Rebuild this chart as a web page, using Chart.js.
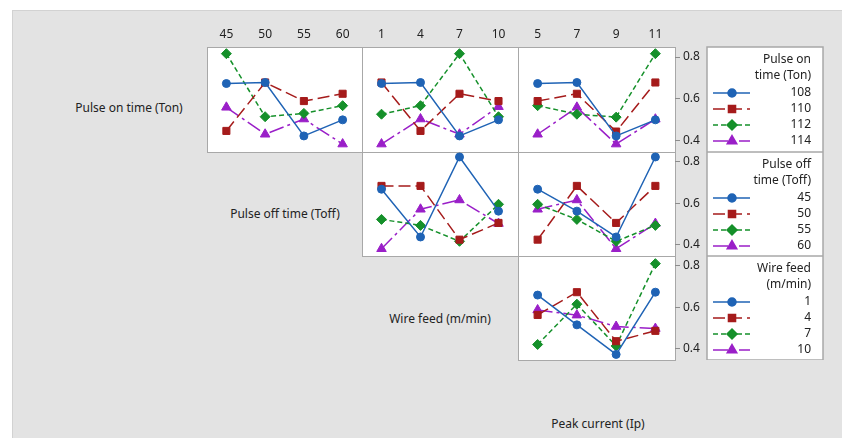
<!DOCTYPE html>
<html lang="en">
<head>
<meta charset="UTF-8" />
<title>Interaction Plot</title>
<script src="https://cdn.jsdelivr.net/npm/chart.js@4.4.1/dist/chart.umd.min.js"></script>
<style>
  body { margin:0; background:#fff; font-family:"Noto Sans", sans-serif; }
  #wrap { position:relative; width:842px; height:438px; overflow:hidden; }
  #bg { position:absolute; left:12px; top:10px; right:0; bottom:0; background:#e3e3e3; border-left:1px solid #d2d2d2; border-top:1px solid #d2d2d2; }
  .panel { position:absolute; background:#fff; border:1.5px solid #a8a8a8; box-sizing:border-box; }
  canvas { position:absolute; }
  .lbl { position:absolute; font-size:12px; color:#222; transform:translate(-50%,-50%); white-space:nowrap; }
</style>
</head>
<body>
<div id="wrap">
  <div id="bg"></div>
  <div class="lbl" style="left:129px;top:107px">Pulse on time (Ton)</div>
  <div class="lbl" style="left:285px;top:213px">Pulse off time (Toff)</div>
  <div class="lbl" style="left:440px;top:318px">Wire feed (m/min)</div>
  <div class="lbl" style="left:598px;top:423px">Peak current (Ip)</div>
</div>
<script>
// factor levels
const tonLevels  = ['108', '110', '112', '114'];
const toffLevels = ['45', '50', '55', '60'];
const wireLevels = ['1', '4', '7', '10'];
const ipLevels   = ['5', '7', '9', '11'];

// mean response, one row per series level
const tonByToff = [
  [0.673, 0.678, 0.422, 0.499],
  [0.446, 0.678, 0.589, 0.624],
  [0.816, 0.514, 0.530, 0.567],
  [0.559, 0.430, 0.503, 0.383]
];
const tonByWire = [
  [0.673, 0.678, 0.422, 0.499],
  [0.678, 0.446, 0.624, 0.589],
  [0.526, 0.567, 0.816, 0.514],
  [0.383, 0.503, 0.430, 0.562]
];
const tonByIp = [
  [0.673, 0.678, 0.422, 0.499],
  [0.589, 0.624, 0.443, 0.678],
  [0.567, 0.526, 0.512, 0.816],
  [0.430, 0.559, 0.383, 0.502]
];
const toffByWire = [
  [0.668, 0.437, 0.824, 0.562],
  [0.684, 0.684, 0.424, 0.505],
  [0.522, 0.493, 0.416, 0.595],
  [0.380, 0.571, 0.616, 0.502]
];
const toffByIp = [
  [0.668, 0.562, 0.437, 0.824],
  [0.424, 0.684, 0.505, 0.684],
  [0.595, 0.522, 0.416, 0.493],
  [0.571, 0.616, 0.380, 0.502]
];
const wireByIp = [
  [0.659, 0.515, 0.372, 0.673],
  [0.563, 0.673, 0.436, 0.486],
  [0.420, 0.615, 0.413, 0.811],
  [0.587, 0.562, 0.507, 0.497]
];
const yTicks = [0.4, 0.6, 0.8];

// styling
const colors = ['#1f63b5', '#a51b1b', '#15902a', '#9a1fc8'];
const shapes = ['circle', 'rect', 'rectRot', 'triangle'];
const sizes  = [4, 5, 5, 5.5];
const dashes = [[], [12, 5], [5, 3], [15, 4, 3, 4]];

const colX = [207, 362, 518, 675];
const rowY = [47, 152, 256, 360];
const topAxisH = 24, rightAxisW = 32, legendW = 117;

Chart.defaults.font.family = '"Noto Sans", sans-serif';
Chart.defaults.font.size = 12;
Chart.defaults.color = '#222';

const sideLegend = {
  id: 'sideLegend',
  afterDraw(chart, args, opts) {
    if (!opts.title) return;
    const ctx = chart.ctx, a = chart.chartArea;
    const x0 = a.right + rightAxisW, x1 = chart.width - 1;
    ctx.save();
    ctx.fillStyle = '#fff';
    ctx.fillRect(x0, a.top, x1 - x0, a.bottom - a.top);
    ctx.strokeStyle = '#a8a8a8';
    ctx.lineWidth = 1.5;
    ctx.strokeRect(x0, a.top, x1 - x0, a.bottom - a.top);
    ctx.font = '12px "Noto Sans", sans-serif';
    ctx.textAlign = 'right';
    ctx.textBaseline = 'middle';
    ctx.fillStyle = '#222';
    opts.title.forEach((t, i) => ctx.fillText(t, x1 - 12, a.top + 13 + 16 * i));
    chart.data.datasets.forEach((ds, i) => {
      const y = a.top + 46 + 16 * i;
      ctx.strokeStyle = ds.borderColor;
      ctx.fillStyle = ds.borderColor;
      ctx.lineWidth = 1.5;
      ctx.setLineDash(ds.borderDash);
      ctx.beginPath(); ctx.moveTo(x0 + 6, y); ctx.lineTo(x0 + 43, y); ctx.stroke();
      ctx.setLineDash([]);
      Chart.helpers.drawPoint(ctx, { pointStyle: ds.pointStyle, radius: ds.pointRadius, borderWidth: 1, rotation: 0 }, x0 + 25, y);
      ctx.fillStyle = '#222';
      ctx.fillText(ds.label, x1 - 12, y);
    });
    ctx.restore();
  }
};

function panel(row, col, xLabels, seriesLabels, values, legendTitle) {
  const wrap = document.getElementById('wrap');
  const pw = colX[col + 1] - colX[col], ph = rowY[row + 1] - rowY[row];
  const box = document.createElement('div');
  box.className = 'panel';
  box.style.left = colX[col] + 'px';
  box.style.top = rowY[row] + 'px';
  box.style.width = (pw + 1) + 'px';
  box.style.height = (ph + 1) + 'px';
  wrap.appendChild(box);

  const hasTop = row === 0, hasRight = col === 2;
  const cv = document.createElement('canvas');
  const w = pw + (hasRight ? rightAxisW + legendW : 0);
  const h = ph + (hasTop ? topAxisH : 0);
  cv.width = w; cv.height = h;
  cv.style.left = colX[col] + 'px';
  cv.style.top = (rowY[row] - (hasTop ? topAxisH : 0)) + 'px';
  cv.style.width = w + 'px'; cv.style.height = h + 'px';
  wrap.appendChild(cv);

  new Chart(cv, {
    type: 'line',
    data: {
      labels: xLabels,
      datasets: values.map((v, i) => ({
        label: seriesLabels[i],
        data: v,
        borderColor: colors[i],
        backgroundColor: colors[i],
        borderWidth: 1.5,
        borderDash: dashes[i],
        pointStyle: shapes[i],
        pointRadius: sizes[i],
        pointBorderWidth: 1,
        tension: 0,
        clip: false
      }))
    },
    options: {
      responsive: false,
      animation: false,
      devicePixelRatio: 1,
      layout: { autoPadding: false, padding: { left: 0, top: 0, bottom: 0, right: hasRight ? legendW : 0 } },
      plugins: {
        legend: { display: false },
        tooltip: { enabled: false },
        sideLegend: { title: legendTitle }
      },
      scales: {
        x: {
          type: 'category',
          position: 'top',
          offset: true,
          display: hasTop,
          grid: { display: false, drawTicks: false },
          border: { display: false },
          ticks: { padding: 5, maxRotation: 0, autoSkip: false },
          afterFit: s => { s.height = hasTop ? topAxisH : 0; s.paddingLeft = 0; s.paddingRight = 0; }
        },
        y: {
          position: 'right',
          min: 0.345,
          max: 0.848,
          display: hasRight,
          grid: { drawOnChartArea: false, drawTicks: true, tickLength: 5, color: '#8c8c8c' },
          border: { display: false },
          ticks: { padding: 3, callback: v => v.toFixed(1) },
          afterBuildTicks: s => { s.ticks = yTicks.map(v => ({ value: v })); },
          afterFit: s => { s.width = hasRight ? rightAxisW : 0; s.paddingTop = 0; s.paddingBottom = 0; }
        }
      }
    },
    plugins: [sideLegend]
  });
}

panel(0, 0, toffLevels, tonLevels, tonByToff, null);
panel(0, 1, wireLevels, tonLevels, tonByWire, null);
panel(0, 2, ipLevels, tonLevels, tonByIp, ['Pulse on', 'time (Ton)']);
panel(1, 1, wireLevels, toffLevels, toffByWire, null);
panel(1, 2, ipLevels, toffLevels, toffByIp, ['Pulse off', 'time (Toff)']);
panel(2, 2, ipLevels, wireLevels, wireByIp, ['Wire feed', '(m/min)']);
</script>
</body>
</html>
